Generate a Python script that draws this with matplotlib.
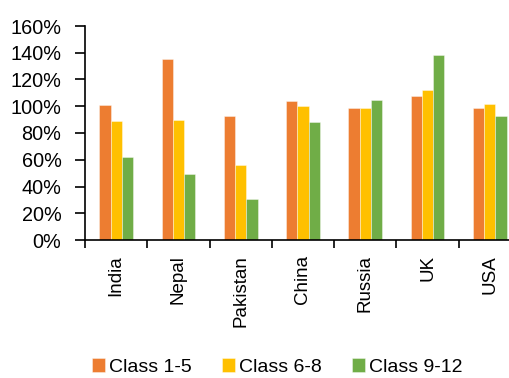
import numpy as np
import matplotlib.pyplot as plt
from matplotlib.ticker import FixedLocator, PercentFormatter

countries = ['India', 'Nepal', 'Pakistan', 'China', 'Russia', 'UK', 'USA']
class_1_5 = [101, 135, 93, 104, 98.5, 108, 99]
class_6_8 = [89, 90, 56, 100, 98.5, 112.5, 101.5]
class_9_12 = [62, 49.5, 31, 88.5, 105, 138, 93]

series = [('Class 1-5', class_1_5, '#ED7D31'),
          ('Class 6-8', class_6_8, '#FFC000'),
          ('Class 9-12', class_9_12, '#70AD47')]

plt.rcParams['font.family'] = ['Liberation Sans', 'DejaVu Sans']

fig = plt.figure(figsize=(5.1, 3.78), dpi=100)
ax = fig.add_axes([85 / 510, 138 / 378, 436 / 510, 214 / 378])

x = np.arange(len(countries))
w = 0.18
for i, (name, vals, col) in enumerate(series):
    ax.bar(x + (i - 1) * w, vals, width=w, color=col, label=name,
           edgecolor=(1, 1, 1, 0.45), linewidth=0.6)

ax.set_xlim(-0.5, len(countries) - 0.5)
ax.set_ylim(0, 160)
ax.set_yticks(np.arange(0, 161, 20))
ax.yaxis.set_major_formatter(PercentFormatter(decimals=0))
ax.set_xticks(x)
ax.set_xticklabels(countries, rotation=90)
ax.xaxis.set_minor_locator(FixedLocator(np.arange(-0.5, len(countries), 1)))

for s in ['top', 'right']:
    ax.spines[s].set_visible(False)
for s in ['left', 'bottom']:
    ax.spines[s].set_linewidth(1.2)

ax.tick_params(axis='y', length=7, width=1.2, pad=10, labelsize=14.3)
ax.tick_params(axis='x', which='major', length=0, pad=11, labelsize=13.5)
ax.tick_params(axis='x', which='minor', length=6, width=1.2)

fig.legend(loc='center', bbox_to_anchor=(277 / 510, 11 / 378), ncol=3,
           frameon=False, fontsize=14, handlelength=0.67, handleheight=0.67,
           handletextpad=0.2, columnspacing=1.55, borderpad=0, borderaxespad=0)

fig.savefig('out.png', dpi=100)
